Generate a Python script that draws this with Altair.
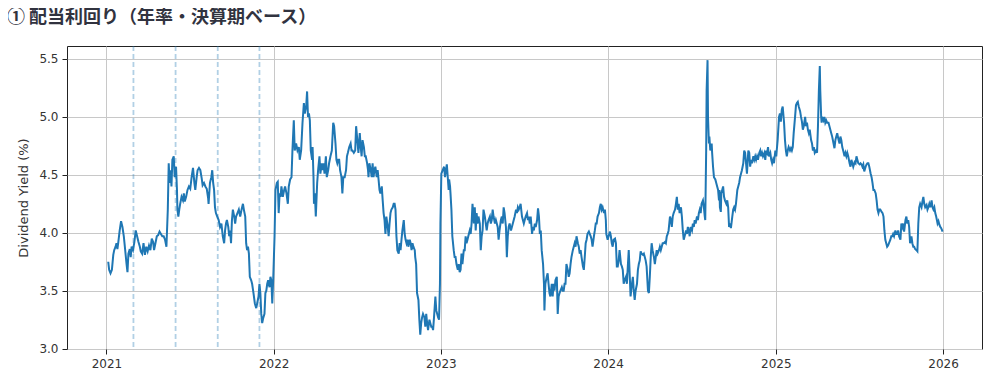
import altair as alt
import pandas as pd

TITLE = "① 配当利回り（年率・決算期ベース）"
Y_TITLE = "Dividend Yield (%)"
YEAR_TICKS = [2021, 2022, 2023, 2024, 2025, 2026]
Y_TICKS = [3.0, 3.5, 4.0, 4.5, 5.0, 5.5]
MARKER_DATES = ["2021-03-01", "2021-06-01", "2021-09-01", "2021-12-01"]

# day-of-year offsets (from Jan 1) and dividend yield values
days_2021 = [4, 6, 9, 12, 15, 17, 20, 22, 24, 26, 29, 32, 35, 38, 41, 44, 46, 48, 51, 53,
             55, 58, 61, 64, 67, 70, 73, 75, 78, 81, 84, 87, 90, 93, 96, 99, 102, 104, 107, 110,
             113, 116, 119, 122, 125, 128, 131, 134, 136, 138, 140, 142, 144, 147, 149, 152, 154, 155, 157, 159,
             161, 164, 167, 169, 171, 174, 177, 180, 183, 186, 189, 192, 194, 197, 199, 202, 205, 208, 210, 213,
             216, 219, 222, 223, 226, 229, 231, 233, 235, 237, 239, 242, 245, 248, 251, 254, 257, 259, 261, 263,
             266, 268, 270, 272, 274, 276, 279, 281, 283, 286, 289, 292, 295, 298, 300, 303, 305, 307, 309, 311,
             313, 316, 318, 321, 324, 327, 329, 332, 334, 336, 338, 340, 342, 345, 347, 349, 351, 353, 356, 358,
             360, 362, 364]
vals_2021 = [3.75, 3.68, 3.65, 3.68, 3.81, 3.85, 3.88, 3.91, 3.86, 3.92, 4.02, 4.10, 4.05, 3.97, 3.85, 3.73, 3.66, 3.82, 3.86, 3.79,
             3.88, 3.85, 3.92, 4.02, 3.97, 3.92, 3.88, 3.84, 3.82, 3.91, 3.81, 3.88, 3.84, 3.89, 3.85, 3.95, 3.92, 3.85, 3.91, 3.97,
             3.98, 4.01, 3.99, 3.97, 3.97, 3.94, 3.88, 4.20, 4.60, 4.43, 4.54, 4.40, 4.63, 4.66, 4.48, 4.57, 4.37, 4.20, 4.14, 4.20,
             4.25, 4.31, 4.28, 4.34, 4.27, 4.31, 4.37, 4.40, 4.38, 4.48, 4.56, 4.43, 4.37, 4.48, 4.54, 4.56, 4.54, 4.47, 4.41, 4.43,
             4.40, 4.38, 4.30, 4.25, 4.43, 4.48, 4.54, 4.43, 4.37, 4.22, 4.17, 4.14, 4.11, 4.05, 4.08, 3.97, 3.91, 4.02, 4.08, 4.11,
             4.05, 3.97, 4.02, 3.91, 4.11, 4.20, 4.14, 4.08, 4.14, 4.17, 4.20, 4.14, 4.20, 4.25, 4.20, 4.14, 3.91, 3.85, 3.88, 3.82,
             3.62, 3.59, 3.56, 3.48, 3.39, 3.35, 3.39, 3.45, 3.56, 3.48, 3.30, 3.22, 3.26, 3.30, 3.48, 3.50, 3.56, 3.59, 3.53, 3.62,
             3.59, 3.39, 3.59]

days_2022 = [2, 4, 7, 9, 11, 13, 15, 17, 20, 23, 25, 28, 31, 33, 36, 39, 41, 44, 46, 49,
             52, 55, 57, 60, 63, 66, 68, 71, 73, 75, 77, 79, 81, 84, 85, 87, 88, 90, 92, 95,
             97, 100, 102, 105, 107, 109, 111, 114, 116, 119, 121, 124, 127, 130, 132, 135, 137, 139, 141, 143,
             145, 148, 150, 152, 155, 158, 160, 162, 165, 168, 170, 172, 175, 178, 180, 182, 185, 188, 190, 192,
             194, 197, 199, 201, 204, 206, 207, 209, 212, 214, 216, 218, 220, 222, 225, 227, 229, 231, 233, 236,
             238, 240, 242, 244, 246, 249, 251, 253, 255, 257, 260, 262, 264, 266, 268, 270, 273, 275, 277, 279,
             281, 284, 286, 288, 290, 292, 294, 297, 299, 301, 303, 305, 308, 309, 311, 313, 316, 318, 320, 322,
             324, 326, 329, 331, 333, 335, 337, 340, 342, 344, 346, 348, 350, 353, 355, 357, 359, 361, 363, 364]
vals_2022 = [3.97, 4.37, 4.43, 4.44, 4.17, 4.34, 4.31, 4.40, 4.31, 4.37, 4.40, 4.34, 4.25, 4.40, 4.46, 4.48, 4.71, 4.97, 4.71, 4.77,
             4.71, 4.74, 4.63, 4.71, 4.95, 5.12, 5.03, 5.09, 5.22, 5.00, 5.03, 4.97, 4.71, 4.63, 4.74, 4.48, 4.25, 4.34, 4.14, 4.43,
             4.54, 4.66, 4.51, 4.60, 4.54, 4.60, 4.51, 4.66, 4.48, 4.54, 4.60, 4.66, 4.71, 4.95, 4.92, 4.77, 4.63, 4.60, 4.63, 4.63,
             4.54, 4.48, 4.34, 4.48, 4.48, 4.54, 4.66, 4.69, 4.74, 4.77, 4.71, 4.71, 4.69, 4.71, 4.92, 4.83, 4.69, 4.86, 4.74, 4.66,
             4.80, 4.74, 4.66, 4.66, 4.60, 4.54, 4.48, 4.60, 4.54, 4.48, 4.60, 4.48, 4.54, 4.57, 4.48, 4.54, 4.46, 4.37, 4.34, 4.40,
             4.28, 4.17, 4.11, 3.99, 4.14, 4.05, 3.97, 4.08, 4.17, 4.20, 4.22, 4.25, 4.25, 4.20, 3.97, 3.85, 3.82, 3.91, 3.85, 3.94,
             4.02, 4.11, 3.99, 3.94, 3.91, 3.94, 3.88, 3.94, 3.91, 3.85, 3.91, 3.88, 3.85, 3.79, 3.73, 3.48, 3.42, 3.25, 3.12, 3.22,
             3.27, 3.30, 3.27, 3.19, 3.30, 3.22, 3.16, 3.25, 3.22, 3.19, 3.19, 3.16, 3.27, 3.45, 3.33, 3.30, 3.27, 3.25, 3.56, 4.08]

days_2023 = [1, 4, 7, 9, 11, 13, 15, 17, 18, 20, 21, 23, 25, 28, 30, 32, 34, 37, 39, 41,
             43, 45, 47, 50, 52, 54, 56, 58, 61, 63, 65, 67, 69, 72, 74, 76, 78, 80, 82, 85,
             87, 89, 91, 93, 96, 98, 100, 102, 104, 107, 109, 111, 113, 115, 118, 120, 122, 124, 126, 128,
             131, 133, 135, 137, 139, 142, 144, 146, 148, 150, 153, 155, 157, 159, 161, 164, 166, 168, 170, 172,
             174, 177, 179, 181, 183, 185, 188, 190, 192, 194, 196, 199, 201, 203, 205, 207, 210, 212, 214, 216,
             218, 220, 223, 225, 226, 228, 231, 233, 235, 237, 239, 242, 244, 246, 248, 250, 253, 255, 257, 259,
             261, 264, 266, 268, 270, 272, 274, 277, 279, 281, 283, 285, 288, 290, 292, 294, 296, 299, 301, 303,
             305, 307, 310, 312, 314, 316, 318, 320, 323, 325, 327, 329, 331, 334, 336, 338, 340, 342, 345, 347,
             349, 351, 353, 356, 358, 360, 361, 364]
vals_2023 = [4.51, 4.54, 4.57, 4.48, 4.54, 4.59, 4.48, 4.37, 4.46, 4.40, 4.34, 4.20, 3.97, 3.85, 3.79, 3.79, 3.73, 3.68, 3.73, 3.66,
             3.68, 3.82, 3.73, 3.85, 3.85, 3.97, 3.91, 3.94, 3.99, 4.02, 3.99, 4.08, 4.25, 4.08, 4.22, 4.02, 4.17, 4.08, 4.14, 4.08,
             3.85, 3.97, 4.02, 4.20, 4.14, 4.08, 4.02, 4.08, 4.11, 4.14, 4.08, 4.11, 4.20, 4.14, 4.08, 4.11, 4.08, 4.05, 3.94, 4.02,
             4.11, 4.14, 4.08, 4.22, 4.17, 4.05, 3.79, 3.97, 4.05, 4.08, 4.02, 4.05, 4.08, 4.11, 4.14, 4.20, 4.17, 4.22, 4.20, 4.22,
             4.25, 4.14, 4.11, 4.08, 4.11, 4.14, 4.17, 4.11, 4.14, 4.08, 4.14, 3.99, 4.05, 4.02, 4.08, 4.05, 4.11, 4.21, 4.14, 3.99,
             4.02, 3.85, 3.73, 3.56, 3.33, 3.56, 3.62, 3.65, 3.56, 3.48, 3.45, 3.56, 3.45, 3.56, 3.50, 3.59, 3.62, 3.30, 3.45, 3.48,
             3.50, 3.53, 3.50, 3.50, 3.56, 3.56, 3.73, 3.68, 3.62, 3.65, 3.73, 3.79, 3.85, 3.88, 3.91, 3.88, 3.97, 3.91, 3.88, 3.82,
             3.85, 3.79, 3.71, 3.68, 3.79, 3.91, 3.94, 3.99, 4.01, 3.99, 3.97, 3.94, 3.88, 3.97, 4.02, 4.08, 4.08, 4.14, 4.17, 4.22,
             4.25, 4.20, 4.22, 4.17, 4.20, 4.11, 3.99, 3.94]

days_2024 = [1, 4, 6, 8, 10, 12, 15, 17, 19, 21, 23, 25, 28, 30, 32, 34, 36, 39, 41, 43,
             45, 47, 49, 52, 54, 56, 58, 60, 63, 65, 67, 69, 71, 73, 76, 78, 80, 82, 84, 87,
             89, 91, 93, 95, 97, 100, 102, 104, 106, 108, 111, 113, 115, 117, 119, 121, 124, 126, 128, 130,
             132, 135, 137, 139, 141, 143, 146, 148, 150, 152, 154, 156, 159, 161, 163, 165, 167, 170, 172, 174,
             176, 178, 180, 183, 185, 187, 189, 191, 194, 196, 198, 200, 202, 204, 207, 209, 211, 212, 214, 215,
             217, 218, 220, 221, 223, 224, 226, 227, 229, 231, 234, 236, 238, 240, 242, 243, 244, 246, 247, 249,
             251, 253, 255, 258, 260, 262, 264, 266, 268, 271, 273, 275, 277, 279, 282, 284, 286, 288, 290, 292,
             295, 297, 299, 301, 303, 306, 308, 310, 312, 314, 317, 319, 321, 323, 325, 327, 330, 332, 334, 336,
             338, 341, 343, 345, 347, 349, 351, 354, 356, 358, 360, 362, 365]
vals_2024 = [3.97, 4.01, 3.97, 3.91, 3.88, 3.94, 3.95, 3.91, 3.71, 3.71, 3.76, 3.85, 3.73, 3.71, 3.68, 3.56, 3.59, 3.62, 3.56, 3.71,
             3.85, 3.65, 3.45, 3.56, 3.62, 3.50, 3.42, 3.50, 3.56, 3.68, 3.73, 3.76, 3.84, 3.82, 3.81, 3.82, 3.79, 3.76, 3.71, 3.50,
             3.48, 3.62, 3.79, 3.91, 3.85, 3.79, 3.73, 3.79, 3.85, 3.82, 3.85, 3.88, 3.85, 3.88, 3.91, 3.91, 3.92, 3.91, 3.97, 3.99,
             4.02, 4.14, 4.11, 4.05, 4.14, 4.17, 4.20, 4.25, 4.31, 4.20, 4.25, 4.17, 4.22, 4.14, 4.02, 3.94, 3.97, 4.02, 3.99, 4.05,
             4.02, 3.97, 4.05, 4.02, 4.08, 4.05, 4.11, 4.08, 4.14, 4.11, 4.17, 4.20, 4.17, 4.25, 4.28, 4.22, 4.14, 4.11, 4.71, 5.23,
             5.49, 5.00, 4.77, 4.83, 4.71, 4.74, 4.77, 4.69, 4.57, 4.48, 4.46, 4.43, 4.40, 4.37, 4.28, 4.37, 4.22, 4.18, 4.34, 4.37,
             4.40, 4.31, 4.28, 4.25, 4.28, 4.22, 4.05, 4.08, 4.04, 4.14, 4.20, 4.22, 4.20, 4.25, 4.37, 4.40, 4.43, 4.48, 4.51, 4.54,
             4.60, 4.71, 4.69, 4.60, 4.51, 4.71, 4.69, 4.57, 4.63, 4.60, 4.66, 4.63, 4.66, 4.63, 4.66, 4.63, 4.69, 4.71, 4.66, 4.69,
             4.66, 4.69, 4.63, 4.71, 4.69, 4.74, 4.66, 4.69, 4.63, 4.60, 4.63, 4.60, 4.71]

days_2025 = [1, 2, 4, 7, 9, 11, 13, 15, 18, 20, 22, 24, 26, 28, 31, 33, 35, 37, 39, 42,
             44, 46, 48, 50, 53, 55, 57, 59, 61, 64, 66, 68, 70, 72, 74, 77, 79, 81, 83, 85,
             88, 90, 92, 94, 96, 97, 99, 100, 101, 104, 106, 108, 110, 112, 115, 117, 119, 121, 123, 126,
             128, 130, 132, 134, 137, 139, 141, 143, 145, 147, 150, 152, 154, 156, 158, 161, 163, 165, 167, 169,
             172, 174, 176, 178, 180, 183, 185, 187, 189, 191, 193, 196, 198, 200, 202, 204, 207, 209, 211, 213,
             215, 218, 220, 222, 224, 226, 228, 231, 233, 235, 237, 239, 241, 243, 245, 247, 250, 252, 254, 256,
             258, 261, 263, 265, 267, 269, 272, 274, 276, 278, 280, 283, 285, 287, 289, 291, 293, 296, 298, 300,
             302, 304, 307, 309, 311, 313, 315, 318, 320, 322, 324, 326, 329, 331, 333, 335, 337, 340, 342, 344,
             346, 348, 350, 353, 355, 357, 359, 361, 364]
vals_2025 = [4.66, 4.71, 4.80, 5.00, 5.03, 4.96, 5.06, 5.09, 4.95, 4.80, 4.71, 4.66, 4.71, 4.74, 4.71, 4.73, 4.71, 4.74, 4.86, 5.00,
             5.10, 5.12, 5.13, 5.09, 5.05, 5.00, 4.96, 4.89, 4.92, 5.00, 4.92, 4.95, 4.89, 4.86, 4.89, 4.80, 4.77, 4.71, 4.74, 4.69,
             4.71, 4.69, 4.92, 5.23, 5.44, 5.23, 5.00, 4.95, 5.00, 4.97, 5.00, 4.95, 4.97, 4.95, 4.95, 4.92, 4.89, 4.86, 4.83, 4.77,
             4.73, 4.80, 4.83, 4.86, 4.80, 4.77, 4.83, 4.80, 4.74, 4.71, 4.66, 4.69, 4.66, 4.69, 4.66, 4.60, 4.57, 4.63, 4.60, 4.57,
             4.61, 4.60, 4.66, 4.63, 4.60, 4.59, 4.60, 4.59, 4.57, 4.59, 4.53, 4.57, 4.59, 4.60, 4.60, 4.57, 4.51, 4.48, 4.43, 4.37,
             4.37, 4.34, 4.28, 4.20, 4.17, 4.20, 4.20, 4.18, 4.17, 4.14, 4.02, 3.94, 3.91, 3.88, 3.89, 3.91, 3.94, 3.97, 3.97, 3.99,
             3.97, 4.02, 3.99, 3.99, 4.02, 3.97, 3.94, 4.08, 4.05, 4.08, 4.01, 4.11, 4.14, 4.08, 4.11, 4.05, 3.91, 3.97, 3.91, 3.88,
             3.88, 3.86, 3.85, 3.84, 4.08, 4.22, 4.25, 4.22, 4.27, 4.31, 4.25, 4.22, 4.24, 4.20, 4.22, 4.25, 4.22, 4.28, 4.22, 4.20,
             4.22, 4.17, 4.14, 4.08, 4.10, 4.07, 4.05, 4.04, 4.01]

series = {
    2021: (days_2021, vals_2021),
    2022: (days_2022, vals_2022),
    2023: (days_2023, vals_2023),
    2024: (days_2024, vals_2024),
    2025: (days_2025, vals_2025),
}

rows = []
for year, (days, vals) in series.items():
    assert len(days) == len(vals), (year, len(days), len(vals))
    start = pd.Timestamp(f"{year}-01-01")
    for d, v in zip(days, vals):
        rows.append({"date": (start + pd.Timedelta(days=d)).strftime("%Y-%m-%dT00:00:00"), "value": v})
df = pd.DataFrame(rows)
markers = pd.DataFrame({"date": [d + "T00:00:00" for d in MARKER_DATES]})

x_enc = alt.X(
    "date:T",
    scale=alt.Scale(domain=[alt.DateTime(year=2020, month=10, date=7),
                            alt.DateTime(year=2026, month=3, date=27)]),
    axis=alt.Axis(values=[alt.DateTime(year=y, month=1, date=1) for y in YEAR_TICKS],
                  format="%Y", title=None, labelFlush=False),
)

rules = alt.Chart(markers).mark_rule(
    color="#1f77b4", opacity=0.35, strokeDash=[5, 3], strokeWidth=1.8
).encode(x=x_enc)

line = alt.Chart(df).mark_line(color="#1f77b4", strokeWidth=2, clip=True).encode(
    x=x_enc,
    y=alt.Y("value:Q",
            scale=alt.Scale(domain=[2.997, 5.612], nice=False, zero=False),
            axis=alt.Axis(values=Y_TICKS, format=".1f", title=Y_TITLE, titlePadding=8,
                          titleFontSize=13)),
)

chart = alt.layer(rules, line).properties(
    width=915,
    height=303,
    autosize=alt.AutoSizeParams(type="none"),
    padding={"left": 59, "top": 38, "right": 10, "bottom": 24},
    title=alt.TitleParams(
        TITLE, anchor="start", frame="group", dx=-60, offset=18,
        font="Noto Sans CJK JP", fontSize=18, fontWeight="bold", color="#31333F",
    ),
).configure_axis(
    grid=True, gridColor="#c8c8c8", gridWidth=1,
    domain=False, tickColor="#222222", tickSize=5, tickWidth=1,
    labelFont="DejaVu Sans", labelFontSize=12, labelColor="#333333", labelPadding=4,
    titleFont="DejaVu Sans", titleFontSize=12, titleColor="#333333", titleFontWeight="normal",
).configure_view(stroke="#222222", strokeWidth=1)

chart.save("out.html", embed_options={"renderer": "svg", "actions": False})
